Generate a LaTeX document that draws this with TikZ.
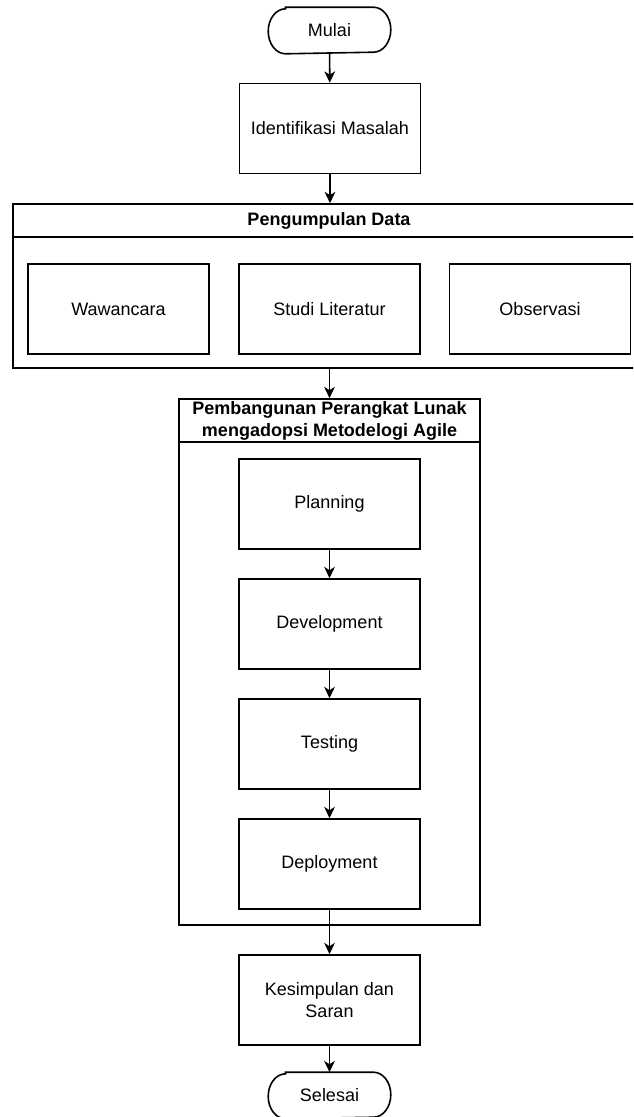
\documentclass[tikz,border=0pt]{standalone}
\usepackage{fontspec}
\setmainfont{Liberation Sans}
\usetikzlibrary{arrows.meta}

\begin{document}
\begin{tikzpicture}[x=0.75pt, y=-0.75pt, >={Stealth[length=8.5pt, width=8pt, inset=2.5pt]},
        line width=1.2pt, font=\fontsize{13.5}{17}\selectfont,
        box/.style={draw, minimum width=135.75pt, minimum height=67.5pt, align=center},
        terminal/.style={minimum width=90.75pt, minimum height=33.75pt},
        group/.style={draw},
        grouptitle/.style={font=\fontsize{13.5}{16}\selectfont\bfseries, align=center}]
            \path[use as bounding box] (0, 0) rectangle (633, 1117);
            \clip (0, 0) rectangle (633, 1117);

            % start / end shapes with rounded ends
            \newcommand{\terminalshape}[1]{
                \draw ([xshift=13pt]#1.north west) -- ([xshift=-13pt]#1.north east)
                    arc[start angle=90, end angle=-90, x radius=13pt, y radius=16.875pt]
                    -- ([xshift=13pt]#1.south west)
                    arc[start angle=270, end angle=90, x radius=13pt, y radius=16.875pt] -- cycle;
            }

            \node[terminal] (mulai) at (329.5, 30.5) {Mulai};
            \terminalshape{mulai}
            \node[box] (identifikasi) at (330, 128.5) {Identifikasi Masalah};

            % Pengumpulan Data
            \node[group, minimum width=474pt, minimum height=123pt] (pengumpulan) at (329, 286) {};
            \draw ([yshift=-25.5pt]pengumpulan.north west) -- ([yshift=-25.5pt]pengumpulan.north east);
            \node[grouptitle] (pengumpulantitle) at (329, 221) {Pengumpulan Data};
            \node[box] (wawancara) at (118.5, 309) {Wawancara};
            \node[box] (studi) at (329.5, 309) {Studi Literatur};
            \node[box] (observasi) at (540, 309) {Observasi};

            % Pembangunan Perangkat Lunak
            \node[group, minimum width=225.75pt, minimum height=394.5pt] (pembangunan) at (329.5, 662) {};
            \draw ([yshift=-33pt]pembangunan.north west) -- ([yshift=-33pt]pembangunan.north east);
            \node[grouptitle] (pembangunantitle) at (329.5, 421) {Pembangunan Perangkat Lunak\\mengadopsi Metodelogi Agile};
            \node[box] (planning) at (329.5, 504) {Planning};
            \node[box] (development) at (329.5, 624) {Development};
            \node[box] (testing) at (329.5, 744) {Testing};
            \node[box] (deployment) at (329.5, 864) {Deployment};

            \node[box] (kesimpulan) at (329.5, 1000) {Kesimpulan dan\\Saran};
            \node[terminal] (selesai) at (329.5, 1095.5) {Selesai};
            \terminalshape{selesai}

            \draw[->] (mulai) -- (identifikasi);
            \draw[->] (identifikasi) -- (identifikasi |- pengumpulan.north);
            \draw[->] (pengumpulan.south -| pembangunan) -- (pembangunan);
            \draw[->] (planning) -- (development);
            \draw[->] (development) -- (testing);
            \draw[->] (testing) -- (deployment);
            \draw[->] (deployment) -- (kesimpulan);
            \draw[->] (kesimpulan) -- (selesai);
        \end{tikzpicture}
\end{document}
